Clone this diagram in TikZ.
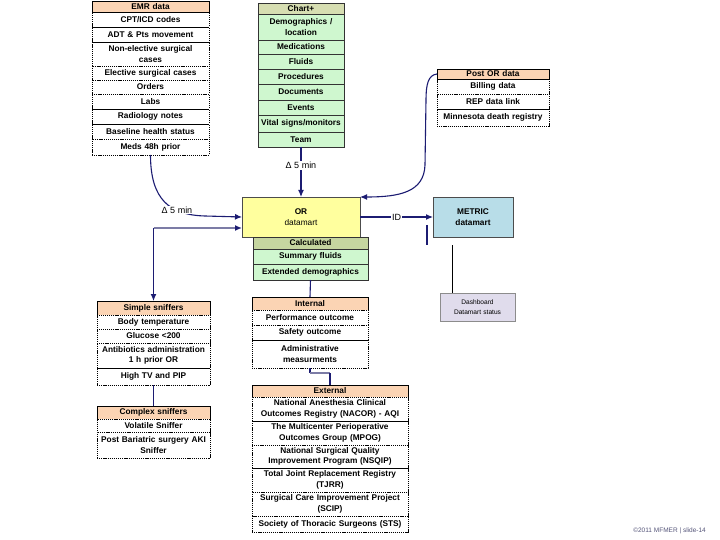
\documentclass[tikz,border=0pt]{standalone}
\usepackage{fontspec}
\setmainfont{Liberation Sans}
\usetikzlibrary{arrows.meta,calc}
\definecolor{hdrorange}{HTML}{FBD4B4}
\definecolor{charthdr}{HTML}{D7DEB2}
\definecolor{calchdr}{HTML}{C6D6A0}
\definecolor{greencell}{HTML}{CFF7CF}
\definecolor{oryellow}{HTML}{FFFF9E}
\definecolor{metricblue}{HTML}{B8DDE8}
\definecolor{dashlav}{HTML}{E0DCEC}
\definecolor{navyc}{HTML}{1C1C72}
\definecolor{slatec}{HTML}{7C7CA6}
\definecolor{copyc}{HTML}{55557A}
\newcommand\cellfont{\fontsize{8.3}{10.3}\selectfont\bfseries}
\newcommand\cbox[7]{%
  \pgfmathsetmacro\cbw{#4-#2}\pgfmathsetmacro\cbh{#5-#3}\pgfmathsetmacro\cbt{#4-#2-2}%
  \node[cellbase,#6,anchor=north west,minimum width=\cbw pt,minimum height=\cbh pt,text width=\cbt pt] (#1) at (#2,#3) {#7};}
\tikzset{
  cellbase/.style={inner sep=0pt,outer sep=0pt,align=center,font=\cellfont,line width=0.6pt},
  hdr/.style={draw=black,fill=hdrorange},
  dcell/.style={draw=black,fill=white,dash pattern=on 1.2pt off 0.9pt},
  gcell/.style={draw=black!80,fill=greencell},
  ghdr/.style={draw=black!80,fill=charthdr},
  chdr/.style={draw=black!80,fill=calchdr},
  solidsep/.style={line width=0.6pt,black},
  navyline/.style={draw=navyc,line width=1.1pt},
  navyarrow/.style={navyline,-{Latex[length=7pt,width=6pt]}},
  slateline/.style={draw=slatec,line width=1.7pt},
  lbl/.style={fill=white,inner sep=1pt,font=\fontsize{9}{10}\selectfont}
}
\begin{document}
\begin{tikzpicture}[x=1pt,y=-1pt]
\fill[white] (0,0) rectangle (720,540);
\useasboundingbox (0,0) rectangle (720,540);
% EMR data
\cbox{emrh}{92}{1}{209}{12}{hdr}{EMR data}
\cbox{emr1}{92}{12}{209}{27}{dcell}{CPT/ICD codes}
\cbox{emr2}{92}{27}{209}{42}{dcell}{ADT \& Pts movement}
\cbox{emr3}{92}{42}{209}{66}{dcell}{Non-elective surgical\\cases}
\cbox{emr4}{92}{66}{209}{80}{dcell}{Elective surgical cases}
\cbox{emr5}{92}{80}{209}{94}{dcell}{Orders}
\cbox{emr6}{92}{94}{209}{109}{dcell}{Labs}
\cbox{emr7}{92}{109}{209}{124}{dcell}{Radiology notes}
\cbox{emr8}{92}{124}{209}{139}{dcell}{Baseline health status}
\cbox{emr9}{92}{139}{209}{155}{dcell}{Meds 48h prior}
\foreach \n in {emrh,emr1,emr2,emr6,emr7}{\draw[solidsep] (\n.south west) -- (\n.south east);}
% Chart+
\cbox{ch}{258}{3}{344}{14}{ghdr}{Chart+}
\cbox{c1}{258}{14}{344}{40}{gcell}{Demographics /\\location}
\cbox{c2}{258}{40}{344}{54}{gcell}{Medications}
\cbox{c3}{258}{54}{344}{69}{gcell}{Fluids}
\cbox{c4}{258}{69}{344}{84}{gcell}{Procedures}
\cbox{c5}{258}{84}{344}{100}{gcell}{Documents}
\cbox{c6}{258}{100}{344}{115}{gcell}{Events}
\cbox{c7}{258}{115}{344}{132}{gcell}{Vital signs/monitors}
\cbox{c8}{258}{132}{344}{147}{gcell}{Team}
% Post OR data
\cbox{ph}{437}{69}{549}{79}{hdr}{Post OR data}
\cbox{p1}{437}{79}{549}{94}{dcell}{Billing data}
\cbox{p2}{437}{94}{549}{109}{dcell}{REP data link}
\cbox{p3}{437}{109}{549}{126}{dcell}{Minnesota death registry}
\foreach \n in {ph,p2}{\draw[solidsep] (\n.south west) -- (\n.south east);}
% OR datamart
\cbox{or}{242}{197}{360}{237}{draw=black!70,fill=oryellow}{OR\\\mdseries datamart}
\cbox{calh}{253}{237}{368}{249}{chdr}{Calculated}
\cbox{cal1}{253}{249}{368}{264}{gcell}{Summary fluids}
\cbox{cal2}{253}{264}{368}{280}{gcell}{Extended demographics}
% METRIC
\cbox{met}{433}{197}{513}{237}{draw=black!70,fill=metricblue}{METRIC\\datamart}
\cbox{dash}{440}{293}{515}{321}{draw=black!45,fill=dashlav,font=\fontsize{6.6}{10.5}\selectfont\mdseries}{Dashboard\\Datamart status}
% Simple sniffers
\cbox{sh}{97}{301}{210}{315}{hdr}{Simple sniffers}
\cbox{s1}{97}{315}{210}{329}{dcell}{Body temperature}
\cbox{s2}{97}{329}{210}{343}{dcell}{Glucose <200}
\cbox{s3}{97}{343}{210}{368}{dcell}{Antibiotics administration\\1 h prior OR}
\cbox{s4}{97}{368}{210}{385}{dcell}{High TV and PIP}
\draw[solidsep] (s3.south west) -- (s3.south east);
% Complex sniffers
\cbox{xh}{97}{406}{210}{419}{hdr}{Complex sniffers}
\cbox{x1}{97}{419}{210}{432}{dcell}{Volatile Sniffer}
\cbox{x2}{97}{432}{210}{458}{dcell}{Post Bariatric surgery AKI\\Sniffer}
% Internal
\cbox{ih}{252}{297}{368}{310}{hdr}{Internal}
\cbox{i1}{252}{310}{368}{325}{dcell}{Performance outcome}
\cbox{i2}{252}{325}{368}{340}{dcell}{Safety outcome}
\cbox{i3}{252}{340}{368}{368}{dcell}{Administrative\\measurments}
\draw[solidsep] (i2.south west) -- (i2.south east);
% External
\cbox{eh}{252}{385}{408}{397}{hdr}{External}
\cbox{e1}{252}{397}{408}{421}{dcell}{National Anesthesia Clinical\\Outcomes Registry (NACOR) - AQI}
\cbox{e2}{252}{421}{408}{445}{dcell}{The Multicenter Perioperative\\Outcomes Group (MPOG)}
\cbox{e3}{252}{445}{408}{468}{dcell}{National Surgical Quality\\Improvement Program (NSQIP)}
\cbox{e4}{252}{468}{408}{492}{dcell}{Total Joint Replacement Registry\\(TJRR)}
\cbox{e5}{252}{492}{408}{516}{dcell}{Surgical Care Improvement Project\\(SCIP)}
\cbox{e6}{252}{516}{408}{532}{dcell}{Society of Thoracic Surgeons (STS)}
\foreach \n in {e1,e3}{\draw[solidsep] (\n.south west) -- (\n.south east);}
% connectors
\draw[navyarrow] (c8.south) -- node[lbl,pos=0.37] (lb2) {Δ 5 min} (or.north);
\draw[navyarrow] (emr9.south) .. controls (150.5,200) and (170,215) .. (205,216) -- (or.west);
\node[lbl] (lb1) at (177,210) {Δ 5 min};
\draw[navyarrow] (ph.west) .. controls (428,75) and (426,85) .. (426,100) -- (425,165) .. controls (424,192) and (400,197) .. (or.north east);
\draw[navyarrow] (or.east) -- node[lbl] (lid) {ID} (met.west);
\coordinate (v1) at (427,225);
\coordinate (v2) at (427,245);
\draw[navyline] (v1) -- (v2);
\coordinate (m1) at (452,245);
\draw[black,line width=0.6pt] (m1) -- (m1 |- dash.north);
\coordinate (sc) at (153.5,228);
\draw[slateline,-{Latex[length=7pt,width=6pt,color=navyc]}] (sc) -- (sc -| or.west);
\draw[navyarrow] (sc) -- (sh.north);
\draw[navyline] (s4.south) -- (xh.north);
\draw[navyline] (cal2.south) -- (ih.north);
\draw[navyline] (i3.south) -- ++(0,5) coordinate (ie);
\draw[slateline] (ie) -- (ie -| eh.north);
\draw[navyline] (ie -| eh.north) -- (eh.north);
\node[anchor=east,font=\fontsize{6.5}{7}\selectfont,text=copyc,inner sep=0pt] (copy) at (706,531) {©2011 MFMER | slide-14};
\end{tikzpicture}
\end{document}
